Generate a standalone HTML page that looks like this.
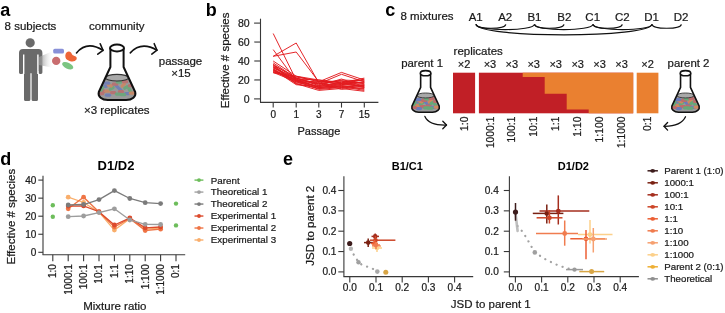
<!DOCTYPE html>
<html><head><meta charset="utf-8"><style>
html,body{margin:0;padding:0;background:#fff;overflow:hidden;}
svg{display:block;font-family:"Liberation Sans", sans-serif;will-change:transform;}
</style></head><body>
<svg width="725" height="313" viewBox="0 0 725 313">
<rect width="725" height="313" fill="#fff"/>
<text x="0.2" y="15.7" font-size="18" text-anchor="start" font-weight="bold" fill="#000">a</text>
<text x="205.7" y="15.6" font-size="18" text-anchor="start" font-weight="bold" fill="#000">b</text>
<text x="385.3" y="15.5" font-size="18" text-anchor="start" font-weight="bold" fill="#000">c</text>
<text x="0.2" y="164.8" font-size="18" text-anchor="start" font-weight="bold" fill="#000">d</text>
<text x="283.0" y="164.9" font-size="18" text-anchor="start" font-weight="bold" fill="#000">e</text>
<text x="4.6" y="29.7" font-size="11.5" text-anchor="start" font-weight="normal" fill="#1a1a1a" stroke="#1a1a1a" stroke-width="0.22">8 subjects</text>
<text x="89.0" y="29.9" font-size="11.5" text-anchor="start" font-weight="normal" fill="#1a1a1a" stroke="#1a1a1a" stroke-width="0.22">community</text>
<text x="84.0" y="113.5" font-size="11.5" text-anchor="start" font-weight="normal" fill="#1a1a1a" stroke="#1a1a1a" stroke-width="0.22">×3 replicates</text>
<text x="180.5" y="64.6" font-size="11.5" text-anchor="middle" font-weight="normal" fill="#1a1a1a" stroke="#1a1a1a" stroke-width="0.22">passage</text>
<text x="181" y="77.3" font-size="11.5" text-anchor="middle" font-weight="normal" fill="#1a1a1a" stroke="#1a1a1a" stroke-width="0.22">×15</text>
<circle cx="30.2" cy="42.8" r="4.6" fill="#6a6a6a"/>
<path d="M19,73 L19,53 Q19,48.9 23,48.9 L38.4,48.9 Q42.4,48.9 42.4,53 L42.4,72.6 Q42.4,74 40.9,74 L39.8,74 Q38.4,74 38.4,72.6 L38.4,71 L38,71 L38,99.4 Q38,101 36.4,101 L33.2,101 Q31.6,101 31.6,99.4 L31.6,73.2 L30.4,73.2 L30.4,99.4 Q30.4,101 28.8,101 L25.6,101 Q24,101 24,99.4 L24,71 L23.4,71 L23.4,72.6 Q23.4,74 22,74 L20.4,74 Q19,74 19,72.6 Z" fill="#6a6a6a"/>
<line x1="23.7" y1="54.5" x2="23.7" y2="74" stroke="#fff" stroke-width="1.4"/>
<line x1="37.9" y1="54.5" x2="37.9" y2="74" stroke="#fff" stroke-width="1.4"/>
<defs><filter id="bl" x="-20%" y="-20%" width="140%" height="140%"><feGaussianBlur stdDeviation="0.6"/></filter><linearGradient id="beam" x1="0" y1="0" x2="1" y2="0"><stop offset="0" stop-color="#8a8a8a" stop-opacity="0.9"/><stop offset="1" stop-color="#ffffff" stop-opacity="0"/></linearGradient></defs>
<path d="M39,57 L53,51 L54,68 L39,65 Z" fill="url(#beam)"/>
<rect x="53.2" y="48.7" width="10.8" height="4.9" rx="1.6" fill="#8890d8"/>
<circle cx="56.2" cy="60.9" r="4.2" fill="#c96d6f"/>
<path d="M66.5,52.5 Q69,50.5 71,52.5 Q72,55.5 74.5,56 Q77.5,56.5 76.5,59.5 Q74.5,62.5 69.5,61 Q65,59.5 65.3,55.5 Q65.5,53.5 66.5,52.5 Z" fill="#ee6538"/>
<ellipse cx="67.7" cy="65.7" rx="6" ry="3" transform="rotate(25 67.7 65.7)" fill="#7cc582"/>
<path d="M76.5,52.9 Q87,40.3 103,50.3" fill="none" stroke="#111" stroke-width="1.6" stroke-linecap="round"/>
<path d="M100.2,43.8 L103,50.3 L97.8,54.2" fill="none" stroke="#111" stroke-width="1.6" stroke-linecap="round" stroke-linejoin="round"/>
<path d="M130.3,52.9 Q141,41 157,50.2" fill="none" stroke="#111" stroke-width="1.6" stroke-linecap="round"/>
<path d="M154.2,43.7 L157,50.2 L151.8,54.1" fill="none" stroke="#111" stroke-width="1.6" stroke-linecap="round" stroke-linejoin="round"/>
<clipPath id="cl117"><path d="M105.4352,77.7 L98.8,92.0 C97.6,96.5 101.8,100.0 107.8,100.0 L126.19999999999999,100.0 C132.2,100.0 136.39999999999998,96.5 135.2,92.0 L128.5648,77.7 Z"/></clipPath>
<path d="M105.4352,77.7 L98.8,92.0 C97.6,96.5 101.8,100.0 107.8,100.0 L126.19999999999999,100.0 C132.2,100.0 136.39999999999998,96.5 135.2,92.0 L128.5648,77.7 Z" fill="#9a9a9a"/>
<g clip-path="url(#cl117)"><g opacity="0.62" filter="url(#bl)"><rect x="101.3" y="84.8" width="6.4" height="3.2" rx="1.6" transform="rotate(0 104.5 86.4)" fill="#5d72c4"/><rect x="99.9" y="89.1" width="6.4" height="3.2" rx="1.6" transform="rotate(30 103.1 90.7)" fill="#c95b5b"/><rect x="104.2" y="89.6" width="6.4" height="3.2" rx="1.6" transform="rotate(0 107.4 91.2)" fill="#e0804c"/><rect x="108.5" y="86.7" width="6.4" height="3.2" rx="1.6" transform="rotate(-30 111.7 88.3)" fill="#55ad6c"/><rect x="110.0" y="91.1" width="6.4" height="3.2" rx="1.6" transform="rotate(0 113.2 92.7)" fill="#c95b5b"/><rect x="113.8" y="84.8" width="6.4" height="3.2" rx="1.6" transform="rotate(45 117.0 86.4)" fill="#5d72c4"/><rect x="117.2" y="88.2" width="6.4" height="3.2" rx="1.6" transform="rotate(45 120.4 89.8)" fill="#5d72c4"/><rect x="117.7" y="90.1" width="6.4" height="3.2" rx="1.6" transform="rotate(0 120.9 91.7)" fill="#c95b5b"/><rect x="120.1" y="83.4" width="6.4" height="3.2" rx="1.6" transform="rotate(-45 123.3 85.0)" fill="#e0804c"/><rect x="114.8" y="92.5" width="6.4" height="3.2" rx="1.6" transform="rotate(0 118.0 94.1)" fill="#55ad6c"/><rect x="122.9" y="85.8" width="6.4" height="3.2" rx="1.6" transform="rotate(-30 126.1 87.4)" fill="#55ad6c"/><rect x="123.9" y="92.0" width="6.4" height="3.2" rx="1.6" transform="rotate(0 127.1 93.6)" fill="#5d72c4"/><rect x="106.6" y="83.9" width="6.4" height="3.2" rx="1.6" transform="rotate(20 109.8 85.5)" fill="#e0804c"/><rect x="111.8" y="82.6" width="6.4" height="3.2" rx="1.6" transform="rotate(0 115.0 84.2)" fill="#c95b5b"/><rect x="126.3" y="88.1" width="6.4" height="3.2" rx="1.6" transform="rotate(60 129.5 89.7)" fill="#55ad6c"/><rect x="98.8" y="87.1" width="6.4" height="3.2" rx="1.6" transform="rotate(-60 102.0 88.7)" fill="#55ad6c"/><rect x="119.8" y="93.1" width="6.4" height="3.2" rx="1.6" transform="rotate(0 123.0 94.7)" fill="#55ad6c"/><rect x="104.8" y="93.6" width="6.4" height="3.2" rx="1.6" transform="rotate(0 108.0 95.2)" fill="#5d72c4"/><rect x="127.8" y="84.1" width="6.4" height="3.2" rx="1.6" transform="rotate(0 131.0 85.7)" fill="#c95b5b"/><rect x="103.8" y="81.6" width="6.4" height="3.2" rx="1.6" transform="rotate(0 107.0 83.2)" fill="#5d72c4"/><rect x="115.8" y="80.6" width="6.4" height="3.2" rx="1.6" transform="rotate(0 119.0 82.2)" fill="#55ad6c"/><rect x="121.8" y="80.1" width="6.4" height="3.2" rx="1.6" transform="rotate(0 125.0 81.7)" fill="#c95b5b"/><rect x="97.8" y="92.1" width="6.4" height="3.2" rx="1.6" transform="rotate(0 101.0 93.7)" fill="#c95b5b"/><rect x="128.8" y="91.6" width="6.4" height="3.2" rx="1.6" transform="rotate(0 132.0 93.2)" fill="#e0804c"/></g></g>
<ellipse cx="117" cy="77.7" rx="11.564800000000002" ry="3.3" fill="#a9a9a9" stroke="#333" stroke-width="1.1"/>
<path d="M110.4,48 L110.4,67.0 L98.8,92.0 C97.6,96.5 101.8,100.0 107.8,100.0 L126.19999999999999,100.0 C132.2,100.0 136.39999999999998,96.5 135.2,92.0 L123.6,67.0 L123.6,48" fill="none" stroke="#111" stroke-width="2.0" stroke-linejoin="round"/>
<ellipse cx="117" cy="48" rx="7.0" ry="3.4" fill="#fff" stroke="#111" stroke-width="2.0"/>
<text x="229.0" y="60.4" font-size="11.5" text-anchor="middle" font-weight="normal" fill="#1a1a1a" stroke="#1a1a1a" stroke-width="0.22" transform="rotate(-90 229.0 60.4)">Effective # species</text>
<line x1="260.5" y1="18.7" x2="260.5" y2="102.4" stroke="#383838" stroke-width="1.1"/>
<line x1="260" y1="102.4" x2="378.4" y2="102.4" stroke="#383838" stroke-width="1.1"/>
<line x1="254.2" y1="98.9" x2="260.5" y2="98.9" stroke="#383838" stroke-width="1.1"/>
<text x="249.7" y="102.60000000000001" font-size="10.5" text-anchor="end" font-weight="normal" fill="#1a1a1a" stroke="#1a1a1a" stroke-width="0.22">0</text>
<line x1="254.2" y1="79.95" x2="260.5" y2="79.95" stroke="#383838" stroke-width="1.1"/>
<text x="249.7" y="83.65" font-size="10.5" text-anchor="end" font-weight="normal" fill="#1a1a1a" stroke="#1a1a1a" stroke-width="0.22">20</text>
<line x1="254.2" y1="61.00000000000001" x2="260.5" y2="61.00000000000001" stroke="#383838" stroke-width="1.1"/>
<text x="249.7" y="64.7" font-size="10.5" text-anchor="end" font-weight="normal" fill="#1a1a1a" stroke="#1a1a1a" stroke-width="0.22">40</text>
<line x1="254.2" y1="42.050000000000004" x2="260.5" y2="42.050000000000004" stroke="#383838" stroke-width="1.1"/>
<text x="249.7" y="45.75000000000001" font-size="10.5" text-anchor="end" font-weight="normal" fill="#1a1a1a" stroke="#1a1a1a" stroke-width="0.22">60</text>
<line x1="254.2" y1="23.10000000000001" x2="260.5" y2="23.10000000000001" stroke="#383838" stroke-width="1.1"/>
<text x="249.7" y="26.800000000000008" font-size="10.5" text-anchor="end" font-weight="normal" fill="#1a1a1a" stroke="#1a1a1a" stroke-width="0.22">80</text>
<line x1="273.2" y1="102.4" x2="273.2" y2="107.6" stroke="#383838" stroke-width="1.1"/>
<text x="273.2" y="118.3" font-size="10" text-anchor="middle" font-weight="normal" fill="#1a1a1a" stroke="#1a1a1a" stroke-width="0.22">0</text>
<line x1="296.2" y1="102.4" x2="296.2" y2="107.6" stroke="#383838" stroke-width="1.1"/>
<text x="296.2" y="118.3" font-size="10" text-anchor="middle" font-weight="normal" fill="#1a1a1a" stroke="#1a1a1a" stroke-width="0.22">1</text>
<line x1="318.8" y1="102.4" x2="318.8" y2="107.6" stroke="#383838" stroke-width="1.1"/>
<text x="318.8" y="118.3" font-size="10" text-anchor="middle" font-weight="normal" fill="#1a1a1a" stroke="#1a1a1a" stroke-width="0.22">3</text>
<line x1="341.5" y1="102.4" x2="341.5" y2="107.6" stroke="#383838" stroke-width="1.1"/>
<text x="341.5" y="118.3" font-size="10" text-anchor="middle" font-weight="normal" fill="#1a1a1a" stroke="#1a1a1a" stroke-width="0.22">7</text>
<line x1="364.3" y1="102.4" x2="364.3" y2="107.6" stroke="#383838" stroke-width="1.1"/>
<text x="364.3" y="118.3" font-size="10" text-anchor="middle" font-weight="normal" fill="#1a1a1a" stroke="#1a1a1a" stroke-width="0.22">15</text>
<text x="318.9" y="134.5" font-size="11" text-anchor="middle" font-weight="normal" fill="#1a1a1a" stroke="#1a1a1a" stroke-width="0.22">Passage</text>
<polyline points="273.2,33.5 296.2,80.0 318.8,87.5 341.5,85.6 364.3,87.5" fill="none" stroke="#e31a1f" stroke-width="0.95" stroke-linejoin="round"/>
<polyline points="273.2,49.6 296.2,80.9 318.8,86.6 341.5,83.7 364.3,85.6" fill="none" stroke="#e31a1f" stroke-width="0.95" stroke-linejoin="round"/>
<polyline points="273.2,56.3 296.2,43.0 318.8,82.8 341.5,87.5 364.3,84.7" fill="none" stroke="#e31a1f" stroke-width="0.95" stroke-linejoin="round"/>
<polyline points="273.2,56.3 296.2,52.0 318.8,81.8 341.5,80.9 364.3,83.7" fill="none" stroke="#e31a1f" stroke-width="0.95" stroke-linejoin="round"/>
<polyline points="273.2,61.0 296.2,76.2 318.8,81.8 341.5,72.4 364.3,80.0" fill="none" stroke="#e31a1f" stroke-width="0.95" stroke-linejoin="round"/>
<polyline points="273.2,62.9 296.2,78.1 318.8,83.7 341.5,74.3 364.3,81.8" fill="none" stroke="#e31a1f" stroke-width="0.95" stroke-linejoin="round"/>
<polyline points="273.2,64.3 296.2,79.0 318.8,80.0 341.5,82.8 364.3,78.1" fill="none" stroke="#e31a1f" stroke-width="0.95" stroke-linejoin="round"/>
<polyline points="273.2,65.3 296.2,77.1 318.8,80.9 341.5,84.7 364.3,79.0" fill="none" stroke="#e31a1f" stroke-width="0.95" stroke-linejoin="round"/>
<polyline points="273.2,66.2 296.2,80.0 318.8,87.5 341.5,85.6 364.3,89.4" fill="none" stroke="#e31a1f" stroke-width="0.95" stroke-linejoin="round"/>
<polyline points="273.2,66.7 296.2,81.8 318.8,88.5 341.5,86.6 364.3,90.4" fill="none" stroke="#e31a1f" stroke-width="0.95" stroke-linejoin="round"/>
<polyline points="273.2,67.6 296.2,80.9 318.8,89.4 341.5,87.5 364.3,88.5" fill="none" stroke="#e31a1f" stroke-width="0.95" stroke-linejoin="round"/>
<polyline points="273.2,68.6 296.2,82.8 318.8,85.6 341.5,83.7 364.3,86.6" fill="none" stroke="#e31a1f" stroke-width="0.95" stroke-linejoin="round"/>
<polyline points="273.2,69.1 296.2,83.7 318.8,90.4 341.5,88.5 364.3,91.3" fill="none" stroke="#e31a1f" stroke-width="0.95" stroke-linejoin="round"/>
<polyline points="273.2,69.5 296.2,84.7 318.8,86.6 341.5,81.8 364.3,82.8" fill="none" stroke="#e31a1f" stroke-width="0.95" stroke-linejoin="round"/>
<polyline points="273.2,70.5 296.2,78.1 318.8,84.7 341.5,80.0 364.3,80.9" fill="none" stroke="#e31a1f" stroke-width="0.95" stroke-linejoin="round"/>
<polyline points="273.2,71.4 296.2,80.0 318.8,82.8 341.5,89.4 364.3,85.6" fill="none" stroke="#e31a1f" stroke-width="0.95" stroke-linejoin="round"/>
<polyline points="273.2,71.9 296.2,79.0 318.8,87.5 341.5,84.7 364.3,81.8" fill="none" stroke="#e31a1f" stroke-width="0.95" stroke-linejoin="round"/>
<polyline points="273.2,72.4 296.2,81.8 318.8,83.7 341.5,80.9 364.3,87.5" fill="none" stroke="#e31a1f" stroke-width="0.95" stroke-linejoin="round"/>
<polyline points="273.2,72.8 296.2,76.2 318.8,80.0 341.5,82.8 364.3,80.0" fill="none" stroke="#e31a1f" stroke-width="0.95" stroke-linejoin="round"/>
<polyline points="273.2,64.8 296.2,83.7 318.8,88.5 341.5,86.6 364.3,84.7" fill="none" stroke="#e31a1f" stroke-width="0.95" stroke-linejoin="round"/>
<polyline points="273.2,67.6 296.2,78.1 318.8,85.6 341.5,79.0 364.3,86.6" fill="none" stroke="#e31a1f" stroke-width="0.95" stroke-linejoin="round"/>
<polyline points="273.2,70.5 296.2,80.9 318.8,81.8 341.5,83.7 364.3,82.8" fill="none" stroke="#e31a1f" stroke-width="0.95" stroke-linejoin="round"/>
<text x="400.5" y="20.4" font-size="11.5" text-anchor="start" font-weight="normal" fill="#1a1a1a" stroke="#1a1a1a" stroke-width="0.22">8 mixtures</text>
<text x="475.7" y="20.5" font-size="11.5" text-anchor="middle" font-weight="normal" fill="#1a1a1a" stroke="#1a1a1a" stroke-width="0.22">A1</text>
<text x="505.2" y="20.5" font-size="11.5" text-anchor="middle" font-weight="normal" fill="#1a1a1a" stroke="#1a1a1a" stroke-width="0.22">A2</text>
<text x="534.5" y="20.5" font-size="11.5" text-anchor="middle" font-weight="normal" fill="#1a1a1a" stroke="#1a1a1a" stroke-width="0.22">B1</text>
<text x="564.3" y="20.5" font-size="11.5" text-anchor="middle" font-weight="normal" fill="#1a1a1a" stroke="#1a1a1a" stroke-width="0.22">B2</text>
<text x="592.7" y="20.5" font-size="11.5" text-anchor="middle" font-weight="normal" fill="#1a1a1a" stroke="#1a1a1a" stroke-width="0.22">C1</text>
<text x="622.3" y="20.5" font-size="11.5" text-anchor="middle" font-weight="normal" fill="#1a1a1a" stroke="#1a1a1a" stroke-width="0.22">C2</text>
<text x="651.5" y="20.5" font-size="11.5" text-anchor="middle" font-weight="normal" fill="#1a1a1a" stroke="#1a1a1a" stroke-width="0.22">D1</text>
<text x="681.0" y="20.5" font-size="11.5" text-anchor="middle" font-weight="normal" fill="#1a1a1a" stroke="#1a1a1a" stroke-width="0.22">D2</text>
<path d="M476,24.3 C477,29.55 504.8,29.55 505.8,24.3" fill="none" stroke="#111" stroke-width="1.2"/>
<path d="M476,24.3 C477,31.3 533.5,31.3 534.5,24.3" fill="none" stroke="#111" stroke-width="1.2"/>
<path d="M534.5,24.3 C535.5,29.55 563,29.55 564,24.3" fill="none" stroke="#111" stroke-width="1.2"/>
<path d="M534.5,24.3 C535.5,31.3 592,31.3 593,24.3" fill="none" stroke="#111" stroke-width="1.2"/>
<path d="M593,24.3 C594,29.55 621.3,29.55 622.3,24.3" fill="none" stroke="#111" stroke-width="1.2"/>
<path d="M593,24.3 C594,31.3 651,31.3 652,24.3" fill="none" stroke="#111" stroke-width="1.2"/>
<path d="M652,24.3 C653,29.55 680.4,29.55 681.4,24.3" fill="none" stroke="#111" stroke-width="1.2"/>
<path d="M476,24.3 C477,38.3 651,38.3 652,24.3" fill="none" stroke="#111" stroke-width="1.2"/>
<text x="453.6" y="54.7" font-size="11.5" text-anchor="start" font-weight="normal" fill="#1a1a1a" stroke="#1a1a1a" stroke-width="0.22">replicates</text>
<text x="401.2" y="66.5" font-size="11.4" text-anchor="start" font-weight="normal" fill="#1a1a1a" stroke="#1a1a1a" stroke-width="0.22">parent 1</text>
<text x="667.6" y="66.7" font-size="11.4" text-anchor="start" font-weight="normal" fill="#1a1a1a" stroke="#1a1a1a" stroke-width="0.22">parent 2</text>
<rect x="453" y="72.7" width="22.1" height="40.6" fill="#c11f26"/>
<rect x="478.9" y="72.7" width="154.3" height="40.6" fill="#c11f26"/>
<rect x="636.7" y="72.7" width="21.7" height="40.6" fill="#ea8030"/>
<path d="M522.7,72.7 L633.2,72.7 L633.2,113.3 L588.7,113.3 L588.7,109.4 L566.7,109.4 L566.7,93.7 L544.7,93.7 L544.7,76.9 L522.7,76.9 Z" fill="#ea8030"/>
<text x="464.0" y="68.4" font-size="11" text-anchor="middle" font-weight="normal" fill="#1a1a1a" stroke="#1a1a1a" stroke-width="0.22">×2</text>
<text x="467.7" y="116.6" font-size="10.3" text-anchor="end" font-weight="normal" fill="#1a1a1a" stroke="#1a1a1a" stroke-width="0.22" transform="rotate(-90 467.7 116.6)">1:0</text>
<text x="489.9" y="68.4" font-size="11" text-anchor="middle" font-weight="normal" fill="#1a1a1a" stroke="#1a1a1a" stroke-width="0.22">×3</text>
<text x="493.59999999999997" y="116.6" font-size="10.3" text-anchor="end" font-weight="normal" fill="#1a1a1a" stroke="#1a1a1a" stroke-width="0.22" transform="rotate(-90 493.59999999999997 116.6)">1000:1</text>
<text x="511.8" y="68.4" font-size="11" text-anchor="middle" font-weight="normal" fill="#1a1a1a" stroke="#1a1a1a" stroke-width="0.22">×3</text>
<text x="515.5" y="116.6" font-size="10.3" text-anchor="end" font-weight="normal" fill="#1a1a1a" stroke="#1a1a1a" stroke-width="0.22" transform="rotate(-90 515.5 116.6)">100:1</text>
<text x="533.7" y="68.4" font-size="11" text-anchor="middle" font-weight="normal" fill="#1a1a1a" stroke="#1a1a1a" stroke-width="0.22">×3</text>
<text x="537.4000000000001" y="116.6" font-size="10.3" text-anchor="end" font-weight="normal" fill="#1a1a1a" stroke="#1a1a1a" stroke-width="0.22" transform="rotate(-90 537.4000000000001 116.6)">10:1</text>
<text x="555.7" y="68.4" font-size="11" text-anchor="middle" font-weight="normal" fill="#1a1a1a" stroke="#1a1a1a" stroke-width="0.22">×3</text>
<text x="559.4000000000001" y="116.6" font-size="10.3" text-anchor="end" font-weight="normal" fill="#1a1a1a" stroke="#1a1a1a" stroke-width="0.22" transform="rotate(-90 559.4000000000001 116.6)">1:1</text>
<text x="577.7" y="68.4" font-size="11" text-anchor="middle" font-weight="normal" fill="#1a1a1a" stroke="#1a1a1a" stroke-width="0.22">×3</text>
<text x="581.4000000000001" y="116.6" font-size="10.3" text-anchor="end" font-weight="normal" fill="#1a1a1a" stroke="#1a1a1a" stroke-width="0.22" transform="rotate(-90 581.4000000000001 116.6)">1:10</text>
<text x="599.6" y="68.4" font-size="11" text-anchor="middle" font-weight="normal" fill="#1a1a1a" stroke="#1a1a1a" stroke-width="0.22">×3</text>
<text x="603.3000000000001" y="116.6" font-size="10.3" text-anchor="end" font-weight="normal" fill="#1a1a1a" stroke="#1a1a1a" stroke-width="0.22" transform="rotate(-90 603.3000000000001 116.6)">1:100</text>
<text x="621.6" y="68.4" font-size="11" text-anchor="middle" font-weight="normal" fill="#1a1a1a" stroke="#1a1a1a" stroke-width="0.22">×3</text>
<text x="625.3000000000001" y="116.6" font-size="10.3" text-anchor="end" font-weight="normal" fill="#1a1a1a" stroke="#1a1a1a" stroke-width="0.22" transform="rotate(-90 625.3000000000001 116.6)">1:1000</text>
<text x="647.5" y="68.4" font-size="11" text-anchor="middle" font-weight="normal" fill="#1a1a1a" stroke="#1a1a1a" stroke-width="0.22">×2</text>
<text x="651.2" y="116.6" font-size="10.3" text-anchor="end" font-weight="normal" fill="#1a1a1a" stroke="#1a1a1a" stroke-width="0.22" transform="rotate(-90 651.2 116.6)">0:1</text>
<clipPath id="cl425"><path d="M416.9264,95.475 L411.95000000000005,106.2 C411.05000000000007,109.575 414.20000000000005,112.2 418.70000000000005,112.2 L432.5,112.2 C437.0,112.2 440.15,109.575 439.25,106.2 L434.27360000000004,95.475 Z"/></clipPath>
<path d="M416.9264,95.475 L411.95000000000005,106.2 C411.05000000000007,109.575 414.20000000000005,112.2 418.70000000000005,112.2 L432.5,112.2 C437.0,112.2 440.15,109.575 439.25,106.2 L434.27360000000004,95.475 Z" fill="#9a9a9a"/>
<g clip-path="url(#cl425)"><g opacity="0.75" filter="url(#bl)"><rect x="413.0" y="100.4" width="6.5" height="3.2" rx="1.6" transform="rotate(0 416.2 102.0)" fill="#5d72c4"/><rect x="411.9" y="103.6" width="6.5" height="3.2" rx="1.6" transform="rotate(30 415.2 105.2)" fill="#c95b5b"/><rect x="415.2" y="104.0" width="6.5" height="3.2" rx="1.6" transform="rotate(0 418.4 105.6)" fill="#e0804c"/><rect x="418.4" y="101.8" width="6.5" height="3.2" rx="1.6" transform="rotate(-30 421.6 103.4)" fill="#55ad6c"/><rect x="419.5" y="105.1" width="6.5" height="3.2" rx="1.6" transform="rotate(0 422.8 106.7)" fill="#c95b5b"/><rect x="422.4" y="100.4" width="6.5" height="3.2" rx="1.6" transform="rotate(45 425.6 102.0)" fill="#5d72c4"/><rect x="424.9" y="102.9" width="6.5" height="3.2" rx="1.6" transform="rotate(45 428.2 104.5)" fill="#5d72c4"/><rect x="425.3" y="104.4" width="6.5" height="3.2" rx="1.6" transform="rotate(0 428.5 106.0)" fill="#c95b5b"/><rect x="427.1" y="99.3" width="6.5" height="3.2" rx="1.6" transform="rotate(-45 430.3 100.9)" fill="#e0804c"/><rect x="423.1" y="106.2" width="6.5" height="3.2" rx="1.6" transform="rotate(0 426.4 107.8)" fill="#55ad6c"/><rect x="429.2" y="101.1" width="6.5" height="3.2" rx="1.6" transform="rotate(-30 432.4 102.8)" fill="#55ad6c"/><rect x="429.9" y="105.8" width="6.5" height="3.2" rx="1.6" transform="rotate(0 433.2 107.4)" fill="#5d72c4"/><rect x="417.0" y="99.7" width="6.5" height="3.2" rx="1.6" transform="rotate(20 420.2 101.3)" fill="#e0804c"/><rect x="420.9" y="98.7" width="6.5" height="3.2" rx="1.6" transform="rotate(0 424.1 100.3)" fill="#c95b5b"/><rect x="431.7" y="102.9" width="6.5" height="3.2" rx="1.6" transform="rotate(60 435.0 104.5)" fill="#55ad6c"/><rect x="411.1" y="102.1" width="6.5" height="3.2" rx="1.6" transform="rotate(-60 414.4 103.7)" fill="#55ad6c"/><rect x="426.9" y="106.6" width="6.5" height="3.2" rx="1.6" transform="rotate(0 430.1 108.2)" fill="#55ad6c"/><rect x="415.6" y="107.0" width="6.5" height="3.2" rx="1.6" transform="rotate(0 418.9 108.6)" fill="#5d72c4"/><rect x="432.9" y="99.9" width="6.5" height="3.2" rx="1.6" transform="rotate(0 436.1 101.5)" fill="#c95b5b"/><rect x="414.9" y="98.0" width="6.5" height="3.2" rx="1.6" transform="rotate(0 418.1 99.6)" fill="#5d72c4"/><rect x="423.9" y="97.2" width="6.5" height="3.2" rx="1.6" transform="rotate(0 427.1 98.8)" fill="#55ad6c"/><rect x="428.4" y="96.9" width="6.5" height="3.2" rx="1.6" transform="rotate(0 431.6 98.5)" fill="#c95b5b"/><rect x="410.4" y="105.9" width="6.5" height="3.2" rx="1.6" transform="rotate(0 413.6 107.5)" fill="#c95b5b"/><rect x="433.6" y="105.5" width="6.5" height="3.2" rx="1.6" transform="rotate(0 436.9 107.1)" fill="#e0804c"/></g></g>
<ellipse cx="425.6" cy="95.475" rx="8.673599999999995" ry="2.4749999999999996" fill="#a9a9a9" stroke="#333" stroke-width="0.8800000000000001"/>
<path d="M420.65000000000003,73.2 L420.65000000000003,87.45 L411.95000000000005,106.2 C411.05000000000007,109.575 414.20000000000005,112.2 418.70000000000005,112.2 L432.5,112.2 C437.0,112.2 440.15,109.575 439.25,106.2 L430.55,87.45 L430.55,73.2" fill="none" stroke="#111" stroke-width="1.6" stroke-linejoin="round"/>
<ellipse cx="425.6" cy="73.2" rx="5.25" ry="2.55" fill="#fff" stroke="#111" stroke-width="1.6"/>
<clipPath id="cl685"><path d="M676.8264,95.475 L671.85,106.2 C670.95,109.575 674.1,112.2 678.6,112.2 L692.4,112.2 C696.9,112.2 700.05,109.575 699.15,106.2 L694.1736,95.475 Z"/></clipPath>
<path d="M676.8264,95.475 L671.85,106.2 C670.95,109.575 674.1,112.2 678.6,112.2 L692.4,112.2 C696.9,112.2 700.05,109.575 699.15,106.2 L694.1736,95.475 Z" fill="#9a9a9a"/>
<g clip-path="url(#cl685)"><g opacity="0.75" filter="url(#bl)"><rect x="672.9" y="100.4" width="6.5" height="3.2" rx="1.6" transform="rotate(0 676.1 102.0)" fill="#5d72c4"/><rect x="671.8" y="103.6" width="6.5" height="3.2" rx="1.6" transform="rotate(30 675.1 105.2)" fill="#c95b5b"/><rect x="675.1" y="104.0" width="6.5" height="3.2" rx="1.6" transform="rotate(0 678.3 105.6)" fill="#e0804c"/><rect x="678.3" y="101.8" width="6.5" height="3.2" rx="1.6" transform="rotate(-30 681.5 103.4)" fill="#55ad6c"/><rect x="679.4" y="105.1" width="6.5" height="3.2" rx="1.6" transform="rotate(0 682.6 106.7)" fill="#c95b5b"/><rect x="682.3" y="100.4" width="6.5" height="3.2" rx="1.6" transform="rotate(45 685.5 102.0)" fill="#5d72c4"/><rect x="684.8" y="102.9" width="6.5" height="3.2" rx="1.6" transform="rotate(45 688.0 104.5)" fill="#5d72c4"/><rect x="685.2" y="104.4" width="6.5" height="3.2" rx="1.6" transform="rotate(0 688.4 106.0)" fill="#c95b5b"/><rect x="687.0" y="99.3" width="6.5" height="3.2" rx="1.6" transform="rotate(-45 690.2 100.9)" fill="#e0804c"/><rect x="683.0" y="106.2" width="6.5" height="3.2" rx="1.6" transform="rotate(0 686.2 107.8)" fill="#55ad6c"/><rect x="689.1" y="101.1" width="6.5" height="3.2" rx="1.6" transform="rotate(-30 692.3 102.8)" fill="#55ad6c"/><rect x="689.8" y="105.8" width="6.5" height="3.2" rx="1.6" transform="rotate(0 693.1 107.4)" fill="#5d72c4"/><rect x="676.9" y="99.7" width="6.5" height="3.2" rx="1.6" transform="rotate(20 680.1 101.3)" fill="#e0804c"/><rect x="680.8" y="98.7" width="6.5" height="3.2" rx="1.6" transform="rotate(0 684.0 100.3)" fill="#c95b5b"/><rect x="691.6" y="102.9" width="6.5" height="3.2" rx="1.6" transform="rotate(60 694.9 104.5)" fill="#55ad6c"/><rect x="671.0" y="102.1" width="6.5" height="3.2" rx="1.6" transform="rotate(-60 674.2 103.7)" fill="#55ad6c"/><rect x="686.8" y="106.6" width="6.5" height="3.2" rx="1.6" transform="rotate(0 690.0 108.2)" fill="#55ad6c"/><rect x="675.5" y="107.0" width="6.5" height="3.2" rx="1.6" transform="rotate(0 678.8 108.6)" fill="#5d72c4"/><rect x="692.8" y="99.9" width="6.5" height="3.2" rx="1.6" transform="rotate(0 696.0 101.5)" fill="#c95b5b"/><rect x="674.8" y="98.0" width="6.5" height="3.2" rx="1.6" transform="rotate(0 678.0 99.6)" fill="#5d72c4"/><rect x="683.8" y="97.2" width="6.5" height="3.2" rx="1.6" transform="rotate(0 687.0 98.8)" fill="#55ad6c"/><rect x="688.3" y="96.9" width="6.5" height="3.2" rx="1.6" transform="rotate(0 691.5 98.5)" fill="#c95b5b"/><rect x="670.3" y="105.9" width="6.5" height="3.2" rx="1.6" transform="rotate(0 673.5 107.5)" fill="#c95b5b"/><rect x="693.5" y="105.5" width="6.5" height="3.2" rx="1.6" transform="rotate(0 696.8 107.1)" fill="#e0804c"/></g></g>
<ellipse cx="685.5" cy="95.475" rx="8.673599999999995" ry="2.4749999999999996" fill="#a9a9a9" stroke="#333" stroke-width="0.8800000000000001"/>
<path d="M680.55,73.2 L680.55,87.45 L671.85,106.2 C670.95,109.575 674.1,112.2 678.6,112.2 L692.4,112.2 C696.9,112.2 700.05,109.575 699.15,106.2 L690.45,87.45 L690.45,73.2" fill="none" stroke="#111" stroke-width="1.6" stroke-linejoin="round"/>
<ellipse cx="685.5" cy="73.2" rx="5.25" ry="2.55" fill="#fff" stroke="#111" stroke-width="1.6"/>
<path d="M424.9,116.4 Q429,125.5 446.5,125" fill="none" stroke="#111" stroke-width="1.3" stroke-linecap="round"/>
<path d="M442.8,121.3 L446.5,125 L442.8,128.8" fill="none" stroke="#111" stroke-width="1.3" stroke-linecap="round" stroke-linejoin="round"/>
<path d="M685.5,116.8 Q681,126.5 664,126.3" fill="none" stroke="#111" stroke-width="1.3" stroke-linecap="round"/>
<path d="M667.6,122.5 L664,126.3 L667.6,130.1" fill="none" stroke="#111" stroke-width="1.3" stroke-linecap="round" stroke-linejoin="round"/>
<text x="116" y="169.8" font-size="13" text-anchor="middle" font-weight="bold" fill="#000">D1/D2</text>
<text x="15.4" y="216.7" font-size="11.5" text-anchor="middle" font-weight="normal" fill="#1a1a1a" stroke="#1a1a1a" stroke-width="0.22" transform="rotate(-90 15.4 216.7)">Effective # species</text>
<line x1="43" y1="175.8" x2="43" y2="254.8" stroke="#383838" stroke-width="1.1"/>
<line x1="42.5" y1="254.8" x2="185.2" y2="254.8" stroke="#383838" stroke-width="1.1"/>
<line x1="38.3" y1="252.3" x2="43" y2="252.3" stroke="#383838" stroke-width="1.1"/>
<text x="36.3" y="255.9" font-size="10" text-anchor="end" font-weight="normal" fill="#1a1a1a" stroke="#1a1a1a" stroke-width="0.22">0</text>
<line x1="38.3" y1="234.25" x2="43" y2="234.25" stroke="#383838" stroke-width="1.1"/>
<text x="36.3" y="237.85" font-size="10" text-anchor="end" font-weight="normal" fill="#1a1a1a" stroke="#1a1a1a" stroke-width="0.22">10</text>
<line x1="38.3" y1="216.20000000000002" x2="43" y2="216.20000000000002" stroke="#383838" stroke-width="1.1"/>
<text x="36.3" y="219.8" font-size="10" text-anchor="end" font-weight="normal" fill="#1a1a1a" stroke="#1a1a1a" stroke-width="0.22">20</text>
<line x1="38.3" y1="198.15" x2="43" y2="198.15" stroke="#383838" stroke-width="1.1"/>
<text x="36.3" y="201.75" font-size="10" text-anchor="end" font-weight="normal" fill="#1a1a1a" stroke="#1a1a1a" stroke-width="0.22">30</text>
<line x1="38.3" y1="180.10000000000002" x2="43" y2="180.10000000000002" stroke="#383838" stroke-width="1.1"/>
<text x="36.3" y="183.70000000000002" font-size="10" text-anchor="end" font-weight="normal" fill="#1a1a1a" stroke="#1a1a1a" stroke-width="0.22">40</text>
<line x1="52.8" y1="254.8" x2="52.8" y2="261.3" stroke="#383838" stroke-width="1.1"/>
<text x="56.3" y="264.2" font-size="10" text-anchor="end" font-weight="normal" fill="#1a1a1a" stroke="#1a1a1a" stroke-width="0.22" transform="rotate(-90 56.3 264.2)">1:0</text>
<line x1="68.2" y1="254.8" x2="68.2" y2="261.3" stroke="#383838" stroke-width="1.1"/>
<text x="71.7" y="264.2" font-size="10" text-anchor="end" font-weight="normal" fill="#1a1a1a" stroke="#1a1a1a" stroke-width="0.22" transform="rotate(-90 71.7 264.2)">1000:1</text>
<line x1="83.6" y1="254.8" x2="83.6" y2="261.3" stroke="#383838" stroke-width="1.1"/>
<text x="87.1" y="264.2" font-size="10" text-anchor="end" font-weight="normal" fill="#1a1a1a" stroke="#1a1a1a" stroke-width="0.22" transform="rotate(-90 87.1 264.2)">100:1</text>
<line x1="99.0" y1="254.8" x2="99.0" y2="261.3" stroke="#383838" stroke-width="1.1"/>
<text x="102.5" y="264.2" font-size="10" text-anchor="end" font-weight="normal" fill="#1a1a1a" stroke="#1a1a1a" stroke-width="0.22" transform="rotate(-90 102.5 264.2)">10:1</text>
<line x1="114.4" y1="254.8" x2="114.4" y2="261.3" stroke="#383838" stroke-width="1.1"/>
<text x="117.9" y="264.2" font-size="10" text-anchor="end" font-weight="normal" fill="#1a1a1a" stroke="#1a1a1a" stroke-width="0.22" transform="rotate(-90 117.9 264.2)">1:1</text>
<line x1="129.8" y1="254.8" x2="129.8" y2="261.3" stroke="#383838" stroke-width="1.1"/>
<text x="133.3" y="264.2" font-size="10" text-anchor="end" font-weight="normal" fill="#1a1a1a" stroke="#1a1a1a" stroke-width="0.22" transform="rotate(-90 133.3 264.2)">1:10</text>
<line x1="145.2" y1="254.8" x2="145.2" y2="261.3" stroke="#383838" stroke-width="1.1"/>
<text x="148.7" y="264.2" font-size="10" text-anchor="end" font-weight="normal" fill="#1a1a1a" stroke="#1a1a1a" stroke-width="0.22" transform="rotate(-90 148.7 264.2)">1:100</text>
<line x1="160.6" y1="254.8" x2="160.6" y2="261.3" stroke="#383838" stroke-width="1.1"/>
<text x="164.1" y="264.2" font-size="10" text-anchor="end" font-weight="normal" fill="#1a1a1a" stroke="#1a1a1a" stroke-width="0.22" transform="rotate(-90 164.1 264.2)">1:1000</text>
<line x1="176.0" y1="254.8" x2="176.0" y2="261.3" stroke="#383838" stroke-width="1.1"/>
<text x="179.5" y="264.2" font-size="10" text-anchor="end" font-weight="normal" fill="#1a1a1a" stroke="#1a1a1a" stroke-width="0.22" transform="rotate(-90 179.5 264.2)">0:1</text>
<text x="114.8" y="309.8" font-size="11.5" text-anchor="middle" font-weight="normal" fill="#1a1a1a" stroke="#1a1a1a" stroke-width="0.22">Mixture ratio</text>
<circle cx="52.8" cy="205.2" r="2.2" fill="#6dbd5b"/>
<circle cx="52.8" cy="216.7" r="2.2" fill="#6dbd5b"/>
<circle cx="176.0" cy="203.6" r="2.2" fill="#6dbd5b"/>
<circle cx="176.0" cy="225.4" r="2.2" fill="#6dbd5b"/>
<polyline points="68.2,197.2 83.6,202.5 99.0,212.2 114.4,230.1 129.8,218.7 145.2,229.2 160.6,228.1" fill="none" stroke="#f9ae6b" stroke-width="1.3"/>
<circle cx="68.2" cy="197.2" r="2.4" fill="#f9ae6b"/>
<circle cx="83.6" cy="202.5" r="2.4" fill="#f9ae6b"/>
<circle cx="99.0" cy="212.2" r="2.4" fill="#f9ae6b"/>
<circle cx="114.4" cy="230.1" r="2.4" fill="#f9ae6b"/>
<circle cx="129.8" cy="218.7" r="2.4" fill="#f9ae6b"/>
<circle cx="145.2" cy="229.2" r="2.4" fill="#f9ae6b"/>
<circle cx="160.6" cy="228.1" r="2.4" fill="#f9ae6b"/>
<polyline points="68.2,208.8 83.6,197.2 99.0,212.0 114.4,227.0 129.8,218.4 145.2,230.5 160.6,229.2" fill="none" stroke="#ef7445" stroke-width="1.3"/>
<circle cx="68.2" cy="208.8" r="2.4" fill="#ef7445"/>
<circle cx="83.6" cy="197.2" r="2.4" fill="#ef7445"/>
<circle cx="99.0" cy="212.0" r="2.4" fill="#ef7445"/>
<circle cx="114.4" cy="227.0" r="2.4" fill="#ef7445"/>
<circle cx="129.8" cy="218.4" r="2.4" fill="#ef7445"/>
<circle cx="145.2" cy="230.5" r="2.4" fill="#ef7445"/>
<circle cx="160.6" cy="229.2" r="2.4" fill="#ef7445"/>
<polyline points="68.2,206.1 83.6,205.9 99.0,211.7 114.4,225.0 129.8,218.0 145.2,227.9 160.6,227.0" fill="none" stroke="#dc4a2c" stroke-width="1.3"/>
<circle cx="68.2" cy="206.1" r="2.4" fill="#dc4a2c"/>
<circle cx="83.6" cy="205.9" r="2.4" fill="#dc4a2c"/>
<circle cx="99.0" cy="211.7" r="2.4" fill="#dc4a2c"/>
<circle cx="114.4" cy="225.0" r="2.4" fill="#dc4a2c"/>
<circle cx="129.8" cy="218.0" r="2.4" fill="#dc4a2c"/>
<circle cx="145.2" cy="227.9" r="2.4" fill="#dc4a2c"/>
<circle cx="160.6" cy="227.0" r="2.4" fill="#dc4a2c"/>
<polyline points="68.2,216.7 83.6,216.0 99.0,212.6 114.4,208.8 129.8,220.0 145.2,224.3 160.6,224.5" fill="none" stroke="#9d9d9d" stroke-width="1.3"/>
<circle cx="68.2" cy="216.7" r="2.4" fill="#9d9d9d"/>
<circle cx="83.6" cy="216.0" r="2.4" fill="#9d9d9d"/>
<circle cx="99.0" cy="212.6" r="2.4" fill="#9d9d9d"/>
<circle cx="114.4" cy="208.8" r="2.4" fill="#9d9d9d"/>
<circle cx="129.8" cy="220.0" r="2.4" fill="#9d9d9d"/>
<circle cx="145.2" cy="224.3" r="2.4" fill="#9d9d9d"/>
<circle cx="160.6" cy="224.5" r="2.4" fill="#9d9d9d"/>
<polyline points="68.2,205.0 83.6,204.5 99.0,199.6 114.4,190.6 129.8,198.5 145.2,202.7 160.6,203.6" fill="none" stroke="#7b7b7b" stroke-width="1.3"/>
<circle cx="68.2" cy="205.0" r="2.4" fill="#7b7b7b"/>
<circle cx="83.6" cy="204.5" r="2.4" fill="#7b7b7b"/>
<circle cx="99.0" cy="199.6" r="2.4" fill="#7b7b7b"/>
<circle cx="114.4" cy="190.6" r="2.4" fill="#7b7b7b"/>
<circle cx="129.8" cy="198.5" r="2.4" fill="#7b7b7b"/>
<circle cx="145.2" cy="202.7" r="2.4" fill="#7b7b7b"/>
<circle cx="160.6" cy="203.6" r="2.4" fill="#7b7b7b"/>
<line x1="194.5" y1="180.1" x2="203.4" y2="180.1" stroke="#6dbd5b" stroke-width="1.4"/>
<circle cx="199" cy="180.1" r="1.9" fill="#6dbd5b"/>
<text x="210.8" y="183.5" font-size="9.8" text-anchor="start" font-weight="normal" fill="#1a1a1a" stroke="#1a1a1a" stroke-width="0.22">Parent</text>
<line x1="194.5" y1="192.07999999999998" x2="203.4" y2="192.07999999999998" stroke="#a2a2a2" stroke-width="1.4"/>
<circle cx="199" cy="192.1" r="1.9" fill="#a2a2a2"/>
<text x="210.8" y="195.48" font-size="9.8" text-anchor="start" font-weight="normal" fill="#1a1a1a" stroke="#1a1a1a" stroke-width="0.22">Theoretical 1</text>
<line x1="194.5" y1="204.06" x2="203.4" y2="204.06" stroke="#7b7b7b" stroke-width="1.4"/>
<circle cx="199" cy="204.1" r="1.9" fill="#7b7b7b"/>
<text x="210.8" y="207.46" font-size="9.8" text-anchor="start" font-weight="normal" fill="#1a1a1a" stroke="#1a1a1a" stroke-width="0.22">Theoretical 2</text>
<line x1="194.5" y1="216.04" x2="203.4" y2="216.04" stroke="#dc4a2c" stroke-width="1.4"/>
<circle cx="199" cy="216.0" r="1.9" fill="#dc4a2c"/>
<text x="210.8" y="219.44" font-size="9.8" text-anchor="start" font-weight="normal" fill="#1a1a1a" stroke="#1a1a1a" stroke-width="0.22">Experimental 1</text>
<line x1="194.5" y1="228.01999999999998" x2="203.4" y2="228.01999999999998" stroke="#ef7445" stroke-width="1.4"/>
<circle cx="199" cy="228.0" r="1.9" fill="#ef7445"/>
<text x="210.8" y="231.42" font-size="9.8" text-anchor="start" font-weight="normal" fill="#1a1a1a" stroke="#1a1a1a" stroke-width="0.22">Experimental 2</text>
<line x1="194.5" y1="240.0" x2="203.4" y2="240.0" stroke="#f9ae6b" stroke-width="1.4"/>
<circle cx="199" cy="240.0" r="1.9" fill="#f9ae6b"/>
<text x="210.8" y="243.4" font-size="9.8" text-anchor="start" font-weight="normal" fill="#1a1a1a" stroke="#1a1a1a" stroke-width="0.22">Experimental 3</text>
<text x="407.3" y="170.1" font-size="11" text-anchor="middle" font-weight="bold" fill="#000">B1/C1</text>
<text x="573.4" y="169.9" font-size="11" text-anchor="middle" font-weight="bold" fill="#000">D1/D2</text>
<text x="314.4" y="225.7" font-size="11.5" text-anchor="middle" font-weight="normal" fill="#1a1a1a" stroke="#1a1a1a" stroke-width="0.22" transform="rotate(-90 314.4 225.7)">JSD to parent 2</text>
<text x="490.8" y="307.8" font-size="11.5" text-anchor="middle" font-weight="normal" fill="#1a1a1a" stroke="#1a1a1a" stroke-width="0.22">JSD to parent 1</text>
<line x1="343.9" y1="176.3" x2="343.9" y2="276.6" stroke="#383838" stroke-width="1.1"/>
<line x1="343.4" y1="276.6" x2="473.2" y2="276.6" stroke="#383838" stroke-width="1.1"/>
<line x1="338.29999999999995" y1="271.9" x2="343.9" y2="271.9" stroke="#383838" stroke-width="1.1"/>
<text x="336.5" y="275.4" font-size="10.1" text-anchor="end" font-weight="normal" fill="#1a1a1a" stroke="#1a1a1a" stroke-width="0.22">0.0</text>
<line x1="349.8" y1="276.6" x2="349.8" y2="282.4" stroke="#383838" stroke-width="1.1"/>
<text x="349.8" y="291.3" font-size="10.1" text-anchor="middle" font-weight="normal" fill="#1a1a1a" stroke="#1a1a1a" stroke-width="0.22">0.0</text>
<line x1="338.29999999999995" y1="251.54999999999998" x2="343.9" y2="251.54999999999998" stroke="#383838" stroke-width="1.1"/>
<text x="336.5" y="255.04999999999998" font-size="10.1" text-anchor="end" font-weight="normal" fill="#1a1a1a" stroke="#1a1a1a" stroke-width="0.22">0.1</text>
<line x1="376.0" y1="276.6" x2="376.0" y2="282.4" stroke="#383838" stroke-width="1.1"/>
<text x="376.0" y="291.3" font-size="10.1" text-anchor="middle" font-weight="normal" fill="#1a1a1a" stroke="#1a1a1a" stroke-width="0.22">0.1</text>
<line x1="338.29999999999995" y1="231.2" x2="343.9" y2="231.2" stroke="#383838" stroke-width="1.1"/>
<text x="336.5" y="234.7" font-size="10.1" text-anchor="end" font-weight="normal" fill="#1a1a1a" stroke="#1a1a1a" stroke-width="0.22">0.2</text>
<line x1="402.2" y1="276.6" x2="402.2" y2="282.4" stroke="#383838" stroke-width="1.1"/>
<text x="402.2" y="291.3" font-size="10.1" text-anchor="middle" font-weight="normal" fill="#1a1a1a" stroke="#1a1a1a" stroke-width="0.22">0.2</text>
<line x1="338.29999999999995" y1="210.84999999999997" x2="343.9" y2="210.84999999999997" stroke="#383838" stroke-width="1.1"/>
<text x="336.5" y="214.34999999999997" font-size="10.1" text-anchor="end" font-weight="normal" fill="#1a1a1a" stroke="#1a1a1a" stroke-width="0.22">0.3</text>
<line x1="428.4" y1="276.6" x2="428.4" y2="282.4" stroke="#383838" stroke-width="1.1"/>
<text x="428.4" y="291.3" font-size="10.1" text-anchor="middle" font-weight="normal" fill="#1a1a1a" stroke="#1a1a1a" stroke-width="0.22">0.3</text>
<line x1="338.29999999999995" y1="190.49999999999997" x2="343.9" y2="190.49999999999997" stroke="#383838" stroke-width="1.1"/>
<text x="336.5" y="193.99999999999997" font-size="10.1" text-anchor="end" font-weight="normal" fill="#1a1a1a" stroke="#1a1a1a" stroke-width="0.22">0.4</text>
<line x1="454.6" y1="276.6" x2="454.6" y2="282.4" stroke="#383838" stroke-width="1.1"/>
<text x="454.6" y="291.3" font-size="10.1" text-anchor="middle" font-weight="normal" fill="#1a1a1a" stroke="#1a1a1a" stroke-width="0.22">0.4</text>
<line x1="509.4" y1="176.3" x2="509.4" y2="276.6" stroke="#383838" stroke-width="1.1"/>
<line x1="508.9" y1="276.6" x2="638.9" y2="276.6" stroke="#383838" stroke-width="1.1"/>
<line x1="503.79999999999995" y1="271.9" x2="509.4" y2="271.9" stroke="#383838" stroke-width="1.1"/>
<text x="498.79999999999995" y="275.4" font-size="10.1" text-anchor="end" font-weight="normal" fill="#1a1a1a" stroke="#1a1a1a" stroke-width="0.22">0.0</text>
<line x1="515.4" y1="276.6" x2="515.4" y2="282.4" stroke="#383838" stroke-width="1.1"/>
<text x="515.4" y="291.3" font-size="10.1" text-anchor="middle" font-weight="normal" fill="#1a1a1a" stroke="#1a1a1a" stroke-width="0.22">0.0</text>
<line x1="503.79999999999995" y1="251.54999999999998" x2="509.4" y2="251.54999999999998" stroke="#383838" stroke-width="1.1"/>
<text x="498.79999999999995" y="255.04999999999998" font-size="10.1" text-anchor="end" font-weight="normal" fill="#1a1a1a" stroke="#1a1a1a" stroke-width="0.22">0.1</text>
<line x1="541.6" y1="276.6" x2="541.6" y2="282.4" stroke="#383838" stroke-width="1.1"/>
<text x="541.6" y="291.3" font-size="10.1" text-anchor="middle" font-weight="normal" fill="#1a1a1a" stroke="#1a1a1a" stroke-width="0.22">0.1</text>
<line x1="503.79999999999995" y1="231.2" x2="509.4" y2="231.2" stroke="#383838" stroke-width="1.1"/>
<text x="498.79999999999995" y="234.7" font-size="10.1" text-anchor="end" font-weight="normal" fill="#1a1a1a" stroke="#1a1a1a" stroke-width="0.22">0.2</text>
<line x1="567.8" y1="276.6" x2="567.8" y2="282.4" stroke="#383838" stroke-width="1.1"/>
<text x="567.8" y="291.3" font-size="10.1" text-anchor="middle" font-weight="normal" fill="#1a1a1a" stroke="#1a1a1a" stroke-width="0.22">0.2</text>
<line x1="503.79999999999995" y1="210.84999999999997" x2="509.4" y2="210.84999999999997" stroke="#383838" stroke-width="1.1"/>
<text x="498.79999999999995" y="214.34999999999997" font-size="10.1" text-anchor="end" font-weight="normal" fill="#1a1a1a" stroke="#1a1a1a" stroke-width="0.22">0.3</text>
<line x1="594.0" y1="276.6" x2="594.0" y2="282.4" stroke="#383838" stroke-width="1.1"/>
<text x="594.0" y="291.3" font-size="10.1" text-anchor="middle" font-weight="normal" fill="#1a1a1a" stroke="#1a1a1a" stroke-width="0.22">0.3</text>
<line x1="503.79999999999995" y1="190.49999999999997" x2="509.4" y2="190.49999999999997" stroke="#383838" stroke-width="1.1"/>
<text x="498.79999999999995" y="193.99999999999997" font-size="10.1" text-anchor="end" font-weight="normal" fill="#1a1a1a" stroke="#1a1a1a" stroke-width="0.22">0.4</text>
<line x1="620.1999999999999" y1="276.6" x2="620.1999999999999" y2="282.4" stroke="#383838" stroke-width="1.1"/>
<text x="620.1999999999999" y="291.3" font-size="10.1" text-anchor="middle" font-weight="normal" fill="#1a1a1a" stroke="#1a1a1a" stroke-width="0.22">0.4</text>
<line x1="647.5" y1="170.8" x2="657.9" y2="170.8" stroke="#3d1c1c" stroke-width="1.5"/>
<ellipse cx="652.7" cy="170.8" rx="2.4" ry="1.9" fill="#3d1c1c"/>
<text x="664.3" y="174.20000000000002" font-size="9.7" text-anchor="start" font-weight="normal" fill="#1a1a1a" stroke="#1a1a1a" stroke-width="0.22">Parent 1 (1:0)</text>
<line x1="647.5" y1="182.8" x2="657.9" y2="182.8" stroke="#7a2112" stroke-width="1.5"/>
<ellipse cx="652.7" cy="182.8" rx="2.4" ry="1.9" fill="#7a2112"/>
<text x="664.3" y="186.20000000000002" font-size="9.7" text-anchor="start" font-weight="normal" fill="#1a1a1a" stroke="#1a1a1a" stroke-width="0.22">1000:1</text>
<line x1="647.5" y1="194.8" x2="657.9" y2="194.8" stroke="#a52e1e" stroke-width="1.5"/>
<ellipse cx="652.7" cy="194.8" rx="2.4" ry="1.9" fill="#a52e1e"/>
<text x="664.3" y="198.20000000000002" font-size="9.7" text-anchor="start" font-weight="normal" fill="#1a1a1a" stroke="#1a1a1a" stroke-width="0.22">100:1</text>
<line x1="647.5" y1="206.8" x2="657.9" y2="206.8" stroke="#cd4628" stroke-width="1.5"/>
<ellipse cx="652.7" cy="206.8" rx="2.4" ry="1.9" fill="#cd4628"/>
<text x="664.3" y="210.20000000000002" font-size="9.7" text-anchor="start" font-weight="normal" fill="#1a1a1a" stroke="#1a1a1a" stroke-width="0.22">10:1</text>
<line x1="647.5" y1="218.8" x2="657.9" y2="218.8" stroke="#ec5f34" stroke-width="1.5"/>
<ellipse cx="652.7" cy="218.8" rx="2.4" ry="1.9" fill="#ec5f34"/>
<text x="664.3" y="222.20000000000002" font-size="9.7" text-anchor="start" font-weight="normal" fill="#1a1a1a" stroke="#1a1a1a" stroke-width="0.22">1:1</text>
<line x1="647.5" y1="230.8" x2="657.9" y2="230.8" stroke="#f07c4f" stroke-width="1.5"/>
<ellipse cx="652.7" cy="230.8" rx="2.4" ry="1.9" fill="#f07c4f"/>
<text x="664.3" y="234.20000000000002" font-size="9.7" text-anchor="start" font-weight="normal" fill="#1a1a1a" stroke="#1a1a1a" stroke-width="0.22">1:10</text>
<line x1="647.5" y1="242.8" x2="657.9" y2="242.8" stroke="#f6a070" stroke-width="1.5"/>
<ellipse cx="652.7" cy="242.8" rx="2.4" ry="1.9" fill="#f6a070"/>
<text x="664.3" y="246.20000000000002" font-size="9.7" text-anchor="start" font-weight="normal" fill="#1a1a1a" stroke="#1a1a1a" stroke-width="0.22">1:100</text>
<line x1="647.5" y1="254.8" x2="657.9" y2="254.8" stroke="#fcd08a" stroke-width="1.5"/>
<ellipse cx="652.7" cy="254.8" rx="2.4" ry="1.9" fill="#fcd08a"/>
<text x="664.3" y="258.2" font-size="9.7" text-anchor="start" font-weight="normal" fill="#1a1a1a" stroke="#1a1a1a" stroke-width="0.22">1:1000</text>
<line x1="647.5" y1="266.8" x2="657.9" y2="266.8" stroke="#eeaf34" stroke-width="1.5"/>
<ellipse cx="652.7" cy="266.8" rx="2.4" ry="1.9" fill="#eeaf34"/>
<text x="664.3" y="270.2" font-size="9.7" text-anchor="start" font-weight="normal" fill="#1a1a1a" stroke="#1a1a1a" stroke-width="0.22">Parent 2 (0:1)</text>
<line x1="647.5" y1="278.8" x2="657.9" y2="278.8" stroke="#8f8f8f" stroke-width="1.5"/>
<ellipse cx="652.7" cy="278.8" rx="2.4" ry="1.9" fill="#8f8f8f"/>
<text x="664.3" y="282.2" font-size="9.7" text-anchor="start" font-weight="normal" fill="#1a1a1a" stroke="#1a1a1a" stroke-width="0.22">Theoretical</text>
<polyline points="350.9,248.8 353,253.5 355.8,257.6 358.5,262.3 362,264.8 366.4,266.4 372.6,268.6 377.3,271.6" fill="none" stroke="#a2a2a2" stroke-width="2.2" stroke-dasharray="0.1 6.2" stroke-linecap="round"/>
<circle cx="350.9" cy="248.8" r="2.2" fill="#b5b5b5"/>
<circle cx="358.5" cy="262.3" r="2.2" fill="#a0a0a0"/>
<circle cx="377.3" cy="271.6" r="2.3" fill="#a8a8a8"/>
<circle cx="385.8" cy="272.2" r="2.5" fill="#d8a545"/>
<circle cx="349.7" cy="243.5" r="2.6" fill="#3d1c1c"/>
<line x1="371.5" y1="236.4" x2="379" y2="236.4" stroke="#a52e1e" stroke-width="1.5"/>
<line x1="375.2" y1="233.5" x2="375.2" y2="239.5" stroke="#a52e1e" stroke-width="1.5"/>
<circle cx="375.2" cy="236.4" r="2.3" fill="#a52e1e"/>
<line x1="370" y1="240.2" x2="395.4" y2="240.2" stroke="#cd4628" stroke-width="1.5"/>
<line x1="375.5" y1="236" x2="375.5" y2="245" stroke="#cd4628" stroke-width="1.5"/>
<circle cx="375.5" cy="240.2" r="2.3" fill="#cd4628"/>
<line x1="364" y1="242.6" x2="373" y2="242.6" stroke="#7a2112" stroke-width="1.5"/>
<line x1="368.2" y1="238.5" x2="368.2" y2="247" stroke="#7a2112" stroke-width="1.5"/>
<circle cx="368.2" cy="242.6" r="2.3" fill="#7a2112"/>
<line x1="371" y1="243.5" x2="378" y2="243.5" stroke="#ec5f34" stroke-width="1.5"/>
<line x1="374.5" y1="240" x2="374.5" y2="247" stroke="#ec5f34" stroke-width="1.5"/>
<circle cx="374.5" cy="243.5" r="2.2" fill="#ec5f34"/>
<line x1="372" y1="246" x2="381" y2="246" stroke="#f6a070" stroke-width="1.5"/>
<line x1="376.5" y1="242" x2="376.5" y2="250" stroke="#f6a070" stroke-width="1.5"/>
<circle cx="376.5" cy="246" r="2.2" fill="#f6a070"/>
<line x1="372" y1="248" x2="382" y2="248" stroke="#fcd08a" stroke-width="1.5"/>
<line x1="377" y1="244" x2="377" y2="252" stroke="#fcd08a" stroke-width="1.5"/>
<circle cx="377" cy="248" r="2.2" fill="#fcd08a"/>
<line x1="372" y1="245" x2="380" y2="245" stroke="#f07c4f" stroke-width="1.5"/>
<line x1="376" y1="242" x2="376" y2="249" stroke="#f07c4f" stroke-width="1.5"/>
<circle cx="376" cy="245" r="2.2" fill="#f07c4f"/>
<polyline points="517.5,226 522.6,231.8 526.5,237.9 530.3,244.6 534.8,252.4 545,259 556,264.5 566,268 574.5,269.8" fill="none" stroke="#a2a2a2" stroke-width="2.2" stroke-dasharray="0.1 6.2" stroke-linecap="round"/>
<line x1="515.6" y1="214" x2="517.6" y2="231" stroke="#b4b4b4" stroke-width="2.6" stroke-linecap="round" opacity="0.85"/>
<circle cx="534.8" cy="252.4" r="2.3" fill="#a0a0a0"/>
<line x1="566" y1="269.6" x2="583" y2="269.6" stroke="#9a9a9a" stroke-width="1.5"/>
<circle cx="574.5" cy="269.6" r="2.2" fill="#9a9a9a"/>
<line x1="579.3" y1="271.6" x2="604.2" y2="271.6" stroke="#d8a545" stroke-width="1.5"/>
<circle cx="591.6" cy="271.6" r="2.5" fill="#d8a545"/>
<line x1="515.5" y1="203" x2="515.5" y2="220.7" stroke="#3d1c1c" stroke-width="1.5"/>
<circle cx="515.5" cy="212" r="2.6" fill="#3d1c1c"/>
<line x1="532.8" y1="213.4" x2="563.4" y2="213.4" stroke="#7a2112" stroke-width="1.5"/>
<line x1="546.8" y1="204.4" x2="546.8" y2="223.5" stroke="#7a2112" stroke-width="1.5"/>
<circle cx="546.8" cy="213.4" r="2.4" fill="#7a2112"/>
<line x1="539.5" y1="211.1" x2="589.3" y2="211.1" stroke="#a52e1e" stroke-width="1.5"/>
<line x1="558.3" y1="195.4" x2="558.3" y2="224.5" stroke="#a52e1e" stroke-width="1.5"/>
<circle cx="558.3" cy="211.1" r="2.4" fill="#a52e1e"/>
<line x1="536.6" y1="217.8" x2="562.5" y2="217.8" stroke="#cd4628" stroke-width="1.5"/>
<line x1="549.4" y1="210" x2="549.4" y2="223.5" stroke="#cd4628" stroke-width="1.5"/>
<circle cx="549.4" cy="217.8" r="2.4" fill="#cd4628"/>
<line x1="536" y1="233.5" x2="578" y2="233.5" stroke="#f07c4f" stroke-width="1.5"/>
<line x1="564.7" y1="220.5" x2="564.7" y2="245.7" stroke="#f07c4f" stroke-width="1.5"/>
<circle cx="564.7" cy="233.5" r="2.4" fill="#f07c4f"/>
<line x1="577.9" y1="234.6" x2="612.5" y2="234.6" stroke="#fcd08a" stroke-width="1.5"/>
<line x1="590" y1="220" x2="590" y2="243.5" stroke="#fcd08a" stroke-width="1.5"/>
<circle cx="590" cy="234.6" r="2.4" fill="#fcd08a"/>
<line x1="570.3" y1="238.8" x2="605" y2="238.8" stroke="#ec5f34" stroke-width="1.5"/>
<line x1="586" y1="230" x2="586" y2="259.2" stroke="#ec5f34" stroke-width="1.5"/>
<circle cx="586" cy="238.8" r="2.4" fill="#ec5f34"/>
<line x1="582.3" y1="239" x2="607" y2="239" stroke="#f6a070" stroke-width="1.5"/>
<line x1="593.3" y1="228" x2="593.3" y2="252.5" stroke="#f6a070" stroke-width="1.5"/>
<circle cx="593.3" cy="239" r="2.4" fill="#f6a070"/>
</svg></body></html>
